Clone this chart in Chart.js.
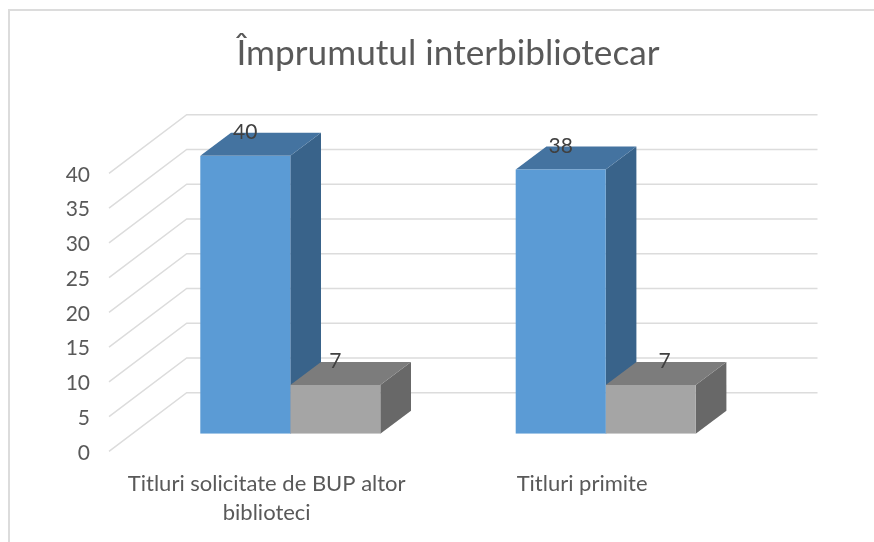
<!DOCTYPE html>
<html>
<head>
<meta charset="utf-8">
<style>
    html, body { margin: 0; padding: 0; background: #fff; }
    #wrap { position: relative; width: 874px; height: 542px; overflow: hidden; }
    #frame { position: absolute; left: 8px; top: 9px; width: 880px; height: 560px; border-left: 2px solid #dcdcdc; border-top: 2px solid #dcdcdc; }
    canvas { position: absolute; left: 0; top: 0; filter: blur(0.4px); }
</style>
<script src="https://cdn.jsdelivr.net/npm/chart.js@4"></script>
</head>
<body>
<div id="wrap">
    <div id="frame"></div>
    <canvas id="chart" width="874" height="542"></canvas>
</div>
<script>
const chartTitle = 'Împrumutul interbibliotecar';
const categories = [['Titluri solicitate de BUP altor', 'biblioteci'], ['Titluri primite']];
const seriesA = [40, 38];
const seriesB = [7, 7];
const yMax = 40;
const yStep = 5;

// 3D look, measured on the reference
const BAR_DX = 30.7, BAR_DY = 23;       // depth of a bar
const FRONT_DX = 23.6, FRONT_DY = 17.6; // floor front edge, relative to bar front
const BACK_DX = 54.1, BACK_DY = 41;     // back wall, relative to bar front
const faceColors = [
    { top: '#4473a0', side: '#39638a' },
    { top: '#7c7c7c', side: '#686868' }
];
const labelShiftX = [[0, 0], [0, 14]];

function face(ctx, pts, color) {
    ctx.fillStyle = color;
    ctx.beginPath();
    pts.forEach((p, i) => i ? ctx.lineTo(p[0], p[1]) : ctx.moveTo(p[0], p[1]));
    ctx.closePath();
    ctx.fill();
}

const box3d = {
    id: 'box3d',
    beforeDatasetsDraw(chart) {
        const { ctx, chartArea, scales: { y } } = chart;
        // walls
        ctx.save();
        ctx.strokeStyle = '#dcdcdc';
        ctx.lineWidth = 1.5;
        y.ticks.forEach(t => {
            const py = y.getPixelForValue(t.value);
            ctx.beginPath();
            ctx.moveTo(chartArea.left - FRONT_DX, py + FRONT_DY);
            ctx.lineTo(chartArea.left + BACK_DX, py - BACK_DY);
            ctx.lineTo(chartArea.right + BACK_DX, py - BACK_DY);
            ctx.stroke();
        });
        // sides and tops of the bars, the fronts come from the library
        chart.data.datasets.forEach((ds, d) => {
            chart.getDatasetMeta(d).data.forEach(bar => {
                const l = bar.x - bar.width / 2, r = bar.x + bar.width / 2;
                face(ctx, [[r, bar.y], [r + BAR_DX, bar.y - BAR_DY], [r + BAR_DX, bar.base - BAR_DY], [r, bar.base]], faceColors[d].side);
                face(ctx, [[l, bar.y], [l + BAR_DX, bar.y - BAR_DY], [r + BAR_DX, bar.y - BAR_DY], [r, bar.y]], faceColors[d].top);
            });
        });
        ctx.restore();
    },
    afterDatasetsDraw(chart) {
        const { ctx } = chart;
        ctx.save();
        ctx.fillStyle = '#404040';
        ctx.font = '21px Lato';
        ctx.textAlign = 'center';
        ctx.textBaseline = 'middle';
        chart.data.datasets.forEach((ds, d) => {
            chart.getDatasetMeta(d).data.forEach((bar, i) => {
                ctx.fillText(ds.data[i], bar.x + labelShiftX[d][i], bar.y - 23.5);
            });
        });
        ctx.restore();
    }
};

new Chart(document.getElementById('chart'), {
    type: 'bar',
    data: {
        labels: categories,
        datasets: [
            { label: 'Serie 1', data: seriesA, backgroundColor: '#5b9bd5', categoryPercentage: 0.5707, barPercentage: 1 },
            { label: 'Serie 2', data: seriesB, backgroundColor: '#a5a5a5', categoryPercentage: 0.5707, barPercentage: 1 }
        ]
    },
    plugins: [box3d],
    options: {
        responsive: false,
        animation: false,
        layout: { padding: { left: 0, right: 110.6, top: 0, bottom: 0 } },
        plugins: {
            legend: { display: false },
            tooltip: { enabled: false },
            title: {
                display: true,
                text: chartTitle,
                fullSize: false,
                color: '#595959',
                font: { family: 'Lato', size: 35.2, weight: 'normal', lineHeight: 1.2 },
                padding: { top: 32.8, bottom: 80.66 }
            }
        },
        scales: {
            x: {
                grid: { display: false },
                border: { display: false },
                ticks: { color: '#595959', font: { family: 'Lato', size: 22, lineHeight: 1.35 }, padding: 27, labelOffset: -FRONT_DX, maxRotation: 0, autoSkip: false },
                afterFit(scale) { scale.height = 108.3; }
            },
            y: {
                min: 0,
                max: yMax,
                grid: { display: false, drawTicks: false },
                border: { display: false },
                ticks: { stepSize: yStep, color: '#595959', font: { family: 'Lato', size: 21 }, padding: 42.6, labelOffset: FRONT_DY + 1.5 },
                afterFit(scale) { scale.width = 132.6; }
            }
        }
    }
});
</script>
</body>
</html>
